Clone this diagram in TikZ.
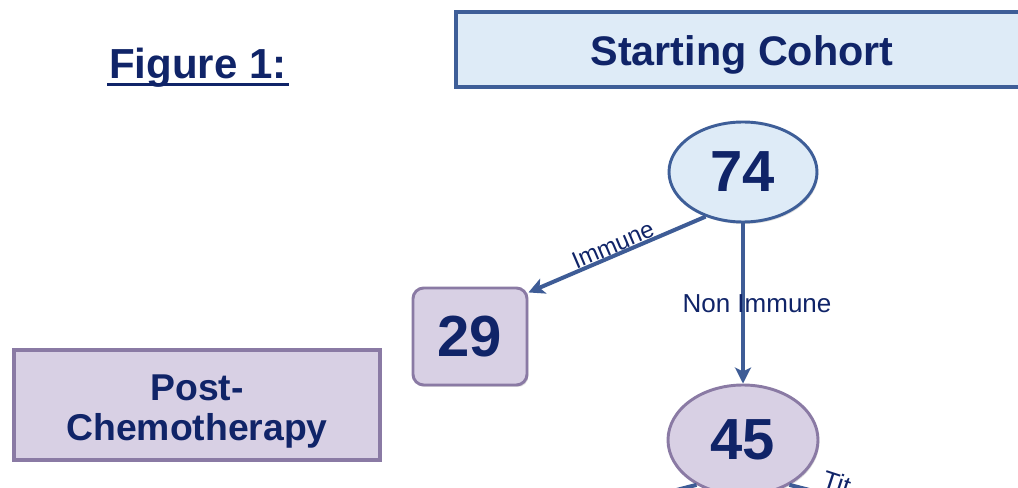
\documentclass[tikz,border=0pt]{standalone}
\usepackage{fontspec}
\setmainfont{Liberation Sans}
\usetikzlibrary{shapes.geometric,arrows.meta,calc,shadows}
\definecolor{navy}{RGB}{16,36,104}
\definecolor{bluebrd}{RGB}{62,94,152}
\definecolor{bluefill}{RGB}{222,235,247}
\definecolor{lavfill}{RGB}{216,208,228}
\definecolor{purbrd}{RGB}{138,122,164}
\definecolor{arrowc}{RGB}{62,92,150}
\begin{document}
\begin{tikzpicture}[x=0.75pt,y=-0.75pt,
  bigtxt/.style={font=\fontsize{31}{36}\selectfont\bfseries, text=navy},
  numtxt/.style={font=\fontsize{43.5}{50}\selectfont\bfseries, text=navy},
  shad/.style={drop shadow={shadow xshift=1pt, shadow yshift=-1.5pt, opacity=0.25}},
  headbox/.style={draw=bluebrd, line width=3pt, fill=bluefill, rectangle, inner sep=0pt, shad},
  bluell/.style={ellipse, draw=bluebrd, line width=2.2pt, fill=bluefill, inner sep=0pt, shad},
  purell/.style={ellipse, draw=purbrd, line width=2.2pt, fill=lavfill, inner sep=0pt, shad},
  purbox/.style={rectangle, draw=purbrd, line width=2.2pt, fill=lavfill, inner sep=0pt, shad},
  conn/.style={draw=arrowc, line width=3pt, -{Stealth[length=12pt,width=12pt,inset=3pt]}},
  plain/.style={draw=arrowc, line width=3pt},
  lbl/.style={font=\fontsize{19.5}{22}\selectfont, text=navy, inner sep=1pt}
]
\clip (0,0) rectangle (1018,488);
\fill[white] (0,0) rectangle (1018,488);

% title
\node[bigtxt, inner sep=0pt, font=\fontsize{31.5}{36}\selectfont\bfseries] (fig) at (198,68) {Figure 1:};
\draw[navy, line width=2.2pt] ($(fig.base west)+(-2,6)$) -- ($(fig.base east)+(2,6)$);

% header box
\node[headbox, minimum width=429pt, minimum height=56.25pt] (sc) at (742,49.5) {};
\node[bigtxt] (sct) at (742,55) {Starting Cohort};

% post-chemo label box
\node[purbox, line width=3pt, minimum width=274.5pt, minimum height=82.5pt] (pc) at (197,405) {};
\node[align=center, font=\fontsize{28}{30}\selectfont\bfseries, text=navy] (pct) at (197,412) {Post-\\Chemotherapy};

% nodes
\node[bluell, minimum width=111pt, minimum height=75pt, numtxt] (n74) at (743,172) {74};
\node[purbox, rounded corners=8pt, minimum width=85.5pt, minimum height=72.75pt, numtxt] (n29) at (470,336.5) {29};
\node[purell, minimum width=112.5pt, minimum height=82.5pt, numtxt] (n45) at (743,440) {45};

% outgoing lines from 45 (cut by the frame)
\coordinate (cl) at (560,520);
\coordinate (cr) at (926,520);
\draw[plain] (n45.224) -- (cl);
\draw[plain] (n45.316) -- (cr);
\node[lbl, rotate=-18, anchor=west] (tit) at (822,478) {Tit};

% connectors
\draw[conn] (n74.230) -- node[midway, sloped, above, lbl, inner sep=0pt, font=\fontsize{18}{20}\selectfont] (limm) {Immune} (n29.37);
\draw[conn] (n74.south) -- node[midway, xshift=10.5pt, lbl] (lnon) {Non Immune} (n45.north);
\end{tikzpicture}
\end{document}
